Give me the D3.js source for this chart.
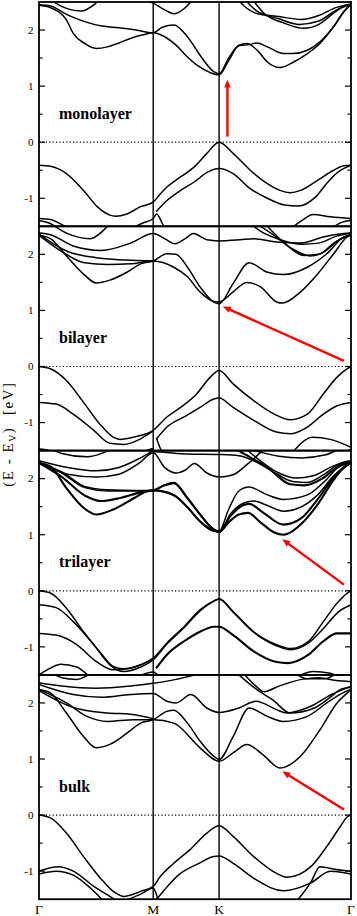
<!DOCTYPE html>
<html><head><meta charset="utf-8">
<script src="https://cdn.jsdelivr.net/npm/d3@7"></script>
<style>body{margin:0;background:#fff}svg{display:block}</style>
</head><body><svg id="c" width="357" height="916"></svg>
<script>
// ---------- data ----------
const kLabels = ["Γ", "M", "K", "Γ"];
const kPoints = [0, 1, 1.577, 2.732];
const yTicksMajor = [-1, 0, 1, 2];
const yTicksMinor = [-0.5, 0.5, 1.5];
const panelNames = ["monolayer", "bilayer", "trilayer", "bulk"];

const monoBands = [
  [[0,2.44],[0.1,2.40],[0.24,2.18],[0.3,1.94],[0.4,1.76],[0.5,1.67],[0.6,1.70],[0.7,1.77],[0.8,1.85],[0.9,1.91],[1,1.95],[1.1,1.88],[1.2,1.73],[1.3,1.52],[1.4,1.35],[1.5,1.24],[1.577,1.20],[1.66,1.45],[1.75,1.73],[1.82,1.76],[1.92,1.62],[2.0,1.43],[2.11,1.33],[2.23,1.43],[2.35,1.58],[2.46,1.76],[2.58,2.06],[2.67,2.33],[2.732,2.45]],
  [[0,2.45],[0.1,2.43],[0.25,2.27],[0.4,2.15],[0.55,2.07],[0.7,2.04],[0.85,2.0],[1,1.95],[1.08,2.05],[1.18,2.09],[1.3,1.88],[1.41,1.55],[1.53,1.26],[1.577,1.22],[1.66,1.5],[1.75,1.72],[1.84,1.74],[1.91,1.77],[2.0,1.70],[2.14,1.58],[2.22,1.58],[2.35,1.64],[2.46,1.79],[2.58,2.06],[2.7,2.40],[2.732,2.45]],
  [[0.08,2.58],[0.18,2.44],[0.37,2.34],[0.48,2.45],[0.55,2.58]],
  [[0.85,2.56],[1,2.48],[1.1,2.36],[1.18,2.29],[1.27,2.38],[1.35,2.55]],
  [[1.72,2.6],[1.8,2.42],[1.9,2.3],[2.1,2.24],[2.3,2.19],[2.45,2.26],[2.6,2.40],[2.732,2.46]],
  [[1.85,2.6],[1.97,2.3],[2.15,2.12],[2.32,2.03],[2.45,2.1],[2.58,2.3],[2.68,2.44],[2.732,2.46]],
  [[1.78,2.6],[1.9,2.35],[2.1,2.2],[2.28,2.1],[2.45,2.16],[2.6,2.35],[2.732,2.46]],
  [[0,-0.41],[0.1,-0.43],[0.24,-0.56],[0.39,-0.86],[0.51,-1.15],[0.62,-1.30],[0.67,-1.32],[0.77,-1.28],[0.89,-1.15],[1,-1.07],[1.05,-0.95],[1.12,-0.8],[1.24,-0.62],[1.36,-0.44],[1.47,-0.2],[1.577,0],[1.7,-0.2],[1.85,-0.5],[2.0,-0.74],[2.11,-0.86],[2.2,-0.9],[2.29,-0.86],[2.44,-0.68],[2.58,-0.5],[2.67,-0.42],[2.732,-0.41]],
  [[1.03,-1.23],[1.12,-1.04],[1.24,-0.86],[1.36,-0.71],[1.48,-0.53],[1.577,-0.47],[1.7,-0.56],[1.85,-0.83],[2.0,-1.0],[2.15,-1.12],[2.27,-1.14],[2.42,-0.98],[2.53,-0.71],[2.62,-0.53],[2.732,-0.41]],
  [[0,-1.36],[0.1,-1.38],[0.2,-1.47],[0.3,-1.6]],
  [[0,-1.40],[0.1,-1.45],[0.2,-1.6]],
  [[0.8,-1.55],[0.9,-1.45],[1,-1.36],[1.03,-1.28],[1.08,-1.45],[1.12,-1.62]],
  [[2.2,-1.55],[2.3,-1.4],[2.4,-1.29],[2.55,-1.33],[2.732,-1.36]],
  [[2.55,-1.55],[2.65,-1.43],[2.732,-1.39]]
];

const biBands = [
  [[0,2.34],[0.1,2.28],[0.25,1.95],[0.4,1.63],[0.5,1.49],[0.62,1.54],[0.77,1.68],[0.89,1.83],[1,1.88],[1.12,2.01],[1.2,2.0],[1.3,1.77],[1.41,1.42],[1.53,1.15],[1.577,1.12],[1.7,1.48],[1.84,1.85],[2.0,1.68],[2.14,1.64],[2.35,1.77],[2.52,2.01],[2.67,2.31],[2.732,2.34]],
  [[0,2.34],[0.2,2.05],[0.4,1.85],[0.6,1.82],[0.8,1.83],[1,1.88],[1.18,1.77],[1.3,1.6],[1.41,1.33],[1.53,1.16],[1.577,1.15],[1.7,1.33],[1.82,1.5],[1.94,1.42],[2.08,1.15],[2.13,1.13],[2.29,1.33],[2.44,1.65],[2.58,2.01],[2.7,2.31],[2.732,2.34]],
  [[0,2.36],[0.25,2.05],[0.5,1.94],[0.75,1.9],[1,1.88]],
  [[0,2.38],[0.1,2.35],[0.3,2.15],[0.55,2.07],[0.8,2.2],[1,2.37],[1.1,2.28],[1.19,2.19],[1.28,2.28],[1.35,2.37],[1.47,2.26],[1.577,2.24],[1.76,2.26],[1.88,2.28],[2.08,2.22],[2.29,2.2],[2.49,2.31],[2.67,2.37],[2.732,2.38]],
  [[0.1,2.55],[0.25,2.37],[0.45,2.28],[0.55,2.4],[0.62,2.55]],
  [[1.82,2.6],[1.95,2.4],[2.1,2.27],[2.3,2.18],[2.45,2.2],[2.6,2.32],[2.732,2.38]],
  [[1.9,2.55],[2.05,2.35],[2.2,2.12],[2.38,1.97],[2.5,2.05],[2.62,2.25],[2.732,2.36]],
  [[2.0,2.5],[2.15,2.2],[2.32,1.98],[2.45,2.0],[2.58,2.2],[2.732,2.36]],
  [[0,0],[0.1,-0.04],[0.24,-0.25],[0.39,-0.64],[0.53,-1.02],[0.65,-1.26],[0.71,-1.30],[0.83,-1.26],[1,-1.14],[1.12,-0.9],[1.24,-0.73],[1.38,-0.49],[1.5,-0.19],[1.577,-0.07],[1.7,-0.31],[1.88,-0.61],[2.06,-0.85],[2.2,-0.95],[2.35,-0.85],[2.49,-0.49],[2.61,-0.19],[2.7,-0.04],[2.732,0]],
  [[0,-0.64],[0.15,-0.67],[0.3,-0.85],[0.48,-1.14],[0.62,-1.37],[0.74,-1.39],[0.89,-1.29],[1,-1.15]],
  [[1.03,-1.29],[1.12,-1.08],[1.27,-0.9],[1.41,-0.73],[1.53,-0.58],[1.577,-0.56],[1.7,-0.73],[1.88,-0.96],[2.08,-1.17],[2.2,-1.2],[2.35,-1.08],[2.49,-0.85],[2.61,-0.7],[2.732,-0.64]],
  [[0,-1.47],[0.1,-1.5],[0.2,-1.6]],
  [[0.75,-1.6],[0.9,-1.52],[1,-1.46]],
  [[2.2,-1.58],[2.4,-1.26],[2.55,-1.3],[2.732,-1.44]],
  [[2.6,-1.58],[2.732,-1.48]],
  [[1.03,-1.29],[1.06,-1.45],[1.1,-1.6]]
];

const triBands = [
  [[0,2.28],[0.1,2.22],[0.24,1.83],[0.39,1.48],[0.5,1.36],[0.65,1.45],[0.83,1.65],[0.94,1.77],[1,1.79],[1.1,1.88],[1.18,1.92],[1.3,1.65],[1.41,1.36],[1.53,1.09],[1.577,1.05],[1.66,1.22],[1.75,1.36],[1.83,1.39],[1.94,1.22],[2.06,1.04],[2.14,1.0],[2.3,1.2],[2.44,1.54],[2.58,1.98],[2.68,2.22],[2.732,2.28]],
  [[0,2.28],[0.2,2.03],[0.4,1.7],[0.55,1.6],[0.72,1.66],[0.9,1.76],[1,1.79],[1.18,1.71],[1.3,1.49],[1.41,1.24],[1.52,1.08],[1.577,1.05],[1.68,1.34],[1.78,1.52],[1.84,1.55],[1.96,1.4],[2.14,1.18],[2.3,1.3],[2.44,1.63],[2.58,2.02],[2.7,2.24],[2.732,2.28]],
  [[0,2.28],[0.2,2.1],[0.4,1.84],[0.6,1.78],[0.85,1.78],[1,1.79],[1.1,1.89],[1.18,1.93],[1.3,1.66],[1.41,1.37],[1.53,1.1],[1.577,1.06],[1.68,1.38],[1.8,1.57],[1.88,1.6],[2.0,1.52],[2.14,1.42],[2.3,1.5],[2.44,1.71],[2.58,2.05],[2.7,2.25],[2.732,2.28]],
  [[0,2.28],[0.2,2.12],[0.4,1.86],[0.6,1.8],[0.85,1.79],[1,1.79],[1.18,1.70],[1.3,1.49],[1.41,1.23],[1.52,1.07],[1.577,1.06],[1.66,1.45],[1.75,1.78],[1.84,1.85],[2.0,1.71],[2.14,1.63],[2.35,1.71],[2.5,1.95],[2.62,2.2],[2.732,2.28]],
  [[0,2.3],[0.25,2.08],[0.5,2.03],[0.7,2.08],[0.88,2.28],[1,2.46],[1.1,2.2],[1.2,2.1],[1.28,2.15],[1.36,2.27],[1.47,2.1],[1.577,2.03],[1.7,2.07],[1.82,2.25],[1.93,2.45],[2.0,2.6]],
  [[0,2.32],[0.25,2.2],[0.5,2.14],[0.7,2.2],[0.9,2.38],[1,2.48],[1.3,2.44],[1.577,2.43],[1.75,2.41],[1.9,2.3],[2.05,2.12],[2.22,1.95],[2.35,1.93],[2.5,2.08],[2.62,2.25],[2.732,2.3]],
  [[1.7,2.55],[1.85,2.38],[2.0,2.2],[2.2,1.9],[2.32,1.88],[2.48,2.0],[2.62,2.22],[2.732,2.3]],
  [[1.8,2.55],[1.95,2.3],[2.1,2.1],[2.25,2.01],[2.4,2.05],[2.55,2.2],[2.68,2.3],[2.732,2.32]],
  [[0.08,2.55],[0.2,2.45],[0.42,2.39],[0.55,2.45],[0.65,2.55]],
  [[1.85,2.52],[2.1,2.4],[2.3,2.37],[2.5,2.42],[2.62,2.52]],
  [[0,0],[0.1,-0.04],[0.24,-0.31],[0.39,-0.73],[0.54,-1.11],[0.65,-1.35],[0.74,-1.39],[0.89,-1.32],[1,-1.2],[1.12,-0.93],[1.27,-0.64],[1.41,-0.34],[1.53,-0.18],[1.577,-0.14],[1.7,-0.37],[1.88,-0.73],[2.08,-0.96],[2.2,-1.03],[2.36,-0.9],[2.49,-0.55],[2.61,-0.22],[2.7,-0.04],[2.732,0]],
  [[0,-0.25],[0.15,-0.3],[0.3,-0.55],[0.48,-0.96],[0.62,-1.32],[0.74,-1.44],[0.89,-1.36],[1,-1.23],[1.12,-0.95],[1.27,-0.66],[1.41,-0.36],[1.53,-0.19],[1.577,-0.15],[1.7,-0.38],[1.88,-0.74],[2.08,-0.98],[2.2,-1.05],[2.36,-0.93],[2.5,-0.65],[2.62,-0.38],[2.732,-0.25]],
  [[0,-0.76],[0.15,-0.79],[0.33,-0.96],[0.5,-1.26],[0.65,-1.41],[0.8,-1.38],[1,-1.22]],
  [[1.03,-1.37],[1.12,-1.14],[1.27,-0.9],[1.41,-0.73],[1.53,-0.64],[1.577,-0.64],[1.7,-0.79],[1.88,-1.08],[2.08,-1.27],[2.18,-1.29],[2.36,-1.14],[2.49,-0.9],[2.61,-0.76],[2.732,-0.76]],
  [[0,-1.5],[0.1,-1.38],[0.19,-1.31],[0.33,-1.36],[0.45,-1.55]],
  [[2.25,-1.55],[2.4,-1.44],[2.55,-1.47],[2.65,-1.56]],
  [[0.85,-1.55],[1,-1.45],[1.03,-1.48]]
];
const triDegenerate = [0, 1, 6, 13];

const bulkBands = [
  [[0,2.24],[0.1,2.18],[0.24,1.82],[0.39,1.4],[0.5,1.2],[0.62,1.26],[0.77,1.46],[0.89,1.64],[1,1.7],[1.12,1.85],[1.18,1.87],[1.3,1.64],[1.41,1.32],[1.53,1.05],[1.577,0.99],[1.7,1.4],[1.84,1.91],[2.0,1.76],[2.14,1.67],[2.35,1.76],[2.52,2.0],[2.66,2.18],[2.732,2.24]],
  [[0,2.24],[0.24,2.0],[0.42,1.76],[0.6,1.67],[0.83,1.7],[1,1.7],[1.18,1.64],[1.41,1.2],[1.577,0.96],[1.7,1.11],[1.82,1.26],[1.96,1.08],[2.11,0.84],[2.29,1.05],[2.46,1.52],[2.61,2.0],[2.7,2.18],[2.732,2.24]],
  [[0,2.22],[0.3,1.92],[0.6,1.82],[0.8,1.8],[1,1.72]],
  [[0,2.33],[0.3,2.15],[0.55,2.1],[0.8,2.15],[1,2.17],[1.12,2.03],[1.2,2.0],[1.33,2.15],[1.47,1.91],[1.577,1.83],[1.75,1.91],[1.9,2.03],[2.08,1.88],[2.17,1.82],[2.38,1.94],[2.56,2.15],[2.732,2.3]],
  [[0,2.36],[0.2,2.3],[0.5,2.26],[0.8,2.3],[1,2.35],[1.2,2.42],[1.4,2.52]],
  [[0.1,2.55],[0.2,2.45],[0.33,2.42],[0.45,2.52]],
  [[1.78,2.55],[1.9,2.3],[1.97,2.2],[2.1,2.3],[2.3,2.42],[2.45,2.45],[2.6,2.4],[2.732,2.38]],
  [[1.75,2.5],[1.9,2.25],[2.05,2.05],[2.2,1.82],[2.4,1.9],[2.55,2.1],[2.65,2.25],[2.732,2.28]],
  [[2.25,2.52],[2.35,2.43],[2.5,2.43],[2.6,2.52]],
  [[0,0],[0.1,-0.05],[0.24,-0.32],[0.39,-0.74],[0.54,-1.13],[0.65,-1.36],[0.74,-1.45],[0.89,-1.36],[1,-1.27],[1.06,-1.1],[1.18,-0.86],[1.32,-0.62],[1.47,-0.32],[1.577,-0.19],[1.7,-0.38],[1.88,-0.74],[2.08,-1.04],[2.17,-1.11],[2.38,-0.92],[2.52,-0.56],[2.64,-0.2],[2.7,-0.03],[2.732,0]],
  [[1.03,-1.5],[1.1,-1.33],[1.22,-1.07],[1.4,-0.86],[1.53,-0.74],[1.577,-0.73],[1.7,-0.86],[1.9,-1.15],[2.14,-1.35],[2.38,-1.21],[2.55,-1.0],[2.65,-1.02],[2.732,-1.05]],
  [[0,-1.0],[0.17,-0.92],[0.3,-1.0],[0.48,-1.27],[0.62,-1.45],[0.7,-1.55]],
  [[0,-1.05],[0.15,-1.0],[0.3,-1.07],[0.45,-1.3],[0.55,-1.5]],
  [[2.25,-1.55],[2.38,-1.2],[2.46,-0.92],[2.6,-0.97],[2.732,-1.0]],
  [[0.72,-1.55],[0.9,-1.4],[1,-1.3],[1.04,-1.5]]
];

const arrowFrom = [[1.65, 0.1], [2.67, 0.1], [2.67, 0.11], [2.67, 0.1]];
const arrowTo   = [[1.65, 1.12], [1.61, 1.07], [2.13, 0.92], [2.13, 0.78]];

// ---------- drawing ----------
const svg = d3.select("#c");
const L = 39, R = 351, top0 = 2, ph = 224.3;
const font = "'Liberation Serif','Times New Roman',serif";
const x = d3.scaleLinear().domain([0, 2.732]).range([L, R]);
const panelsData = [monoBands, biBands, triBands, bulkBands];
const degenerate = [[], [], triDegenerate, []];

const defs = svg.append("defs");

panelsData.forEach((bands, i) => {
  const t = top0 + i * ph;
  const y = d3.scaleLinear().domain([-1.5, 2.5]).range([t + ph, t]);
  const g = svg.append("g");
  defs.append("clipPath").attr("id", "clip" + i)
    .append("rect").attr("x", L).attr("y", t).attr("width", R - L).attr("height", ph);
  const line = d3.line().x(d => x(d[0])).y(d => y(d[1])).curve(d3.curveMonotoneX);
  const bg = g.append("g").attr("clip-path", `url(#clip${i})`);
  bg.selectAll("path").data(bands).join("path")
    .attr("d", line).attr("fill", "none").attr("stroke", "#000")
    .attr("stroke-width", (d, j) => degenerate[i].includes(j) ? 2.1 : 1.5)
    .attr("stroke-linejoin", "round").attr("stroke-linecap", "round");

  // zero dotted line
  g.append("line").attr("x1", L).attr("x2", R).attr("y1", y(0)).attr("y2", y(0))
    .attr("stroke", "#000").attr("stroke-width", 1.2).attr("stroke-dasharray", "1.2,2.2");

  // ticks left & right
  const tg = g.append("g").attr("stroke", "#000").attr("stroke-width", 1.2);
  yTicksMajor.forEach(v => {
    tg.append("line").attr("x1", L).attr("x2", L + 6).attr("y1", y(v)).attr("y2", y(v));
    tg.append("line").attr("x1", R - 6).attr("x2", R).attr("y1", y(v)).attr("y2", y(v));
  });
  yTicksMinor.forEach(v => {
    tg.append("line").attr("x1", L).attr("x2", L + 3.5).attr("y1", y(v)).attr("y2", y(v));
    tg.append("line").attr("x1", R - 3.5).attr("x2", R).attr("y1", y(v)).attr("y2", y(v));
  });
  g.selectAll("text.tl").data(yTicksMajor).join("text").attr("class", "tl")
    .attr("x", 33.5).attr("y", d => y(d)).attr("dy", "0.35em")
    .attr("text-anchor", "end").attr("font-family", font).attr("font-size", 11)
    .text(d => d);

  // frame
  g.append("rect").attr("x", L).attr("y", t).attr("width", R - L).attr("height", ph)
    .attr("fill", "none").attr("stroke", "#000").attr("stroke-width", 1.8);

  // panel name
  g.append("text").attr("x", x(0.175)).attr("y", y(0.42))
    .attr("font-family", font).attr("font-size", 16).attr("font-weight", "bold")
    .text(panelNames[i]);

  // arrow
  const a0 = [x(arrowFrom[i][0]), y(arrowFrom[i][1])];
  const a1 = [x(arrowTo[i][0]), y(arrowTo[i][1])];
  const dx = a1[0] - a0[0], dy = a1[1] - a0[1], len = Math.hypot(dx, dy);
  const ux = dx / len, uy = dy / len, hl = 8, hw = 3.2;
  const bx = a1[0] - ux * hl, by = a1[1] - uy * hl;
  g.append("line").attr("x1", a0[0]).attr("y1", a0[1]).attr("x2", bx + ux).attr("y2", by + uy)
    .attr("stroke", "#ff0000").attr("stroke-width", 2.4);
  g.append("path").attr("d", `M${a1[0]},${a1[1]}L${bx - uy * hw},${by + ux * hw}L${bx + uy * hw},${by - ux * hw}Z`)
    .attr("fill", "#ff0000");
});

// vertical high-symmetry lines
const bottom = top0 + 4 * ph;
svg.selectAll("line.sym").data(kPoints.slice(1, 3)).join("line").attr("class", "sym")
  .attr("x1", d => x(d)).attr("x2", d => x(d)).attr("y1", top0).attr("y2", bottom)
  .attr("stroke", "#000").attr("stroke-width", 1.4);

// k labels
svg.selectAll("text.kl").data(kLabels).join("text").attr("class", "kl")
  .attr("x", (d, i) => x(kPoints[i])).attr("y", 913.5)
  .attr("text-anchor", "middle").attr("font-family", font).attr("font-size", 13.5)
  .text(d => d);

// y-axis label
const yl = svg.append("g").attr("transform", "translate(13.3,0) rotate(-90)")
  .attr("font-family", font).attr("font-size", 15).attr("letter-spacing", "1.5px");
const t1 = yl.append("text").attr("x", -486.7).attr("y", 0);
t1.append("tspan").text("(E - E");
t1.append("tspan").attr("font-size", 10).attr("dy", 3).text("V");
t1.append("tspan").attr("dy", -3).text(")");
yl.append("text").attr("x", -415).attr("y", 0).text("[eV]");
</script>
</body></html>
